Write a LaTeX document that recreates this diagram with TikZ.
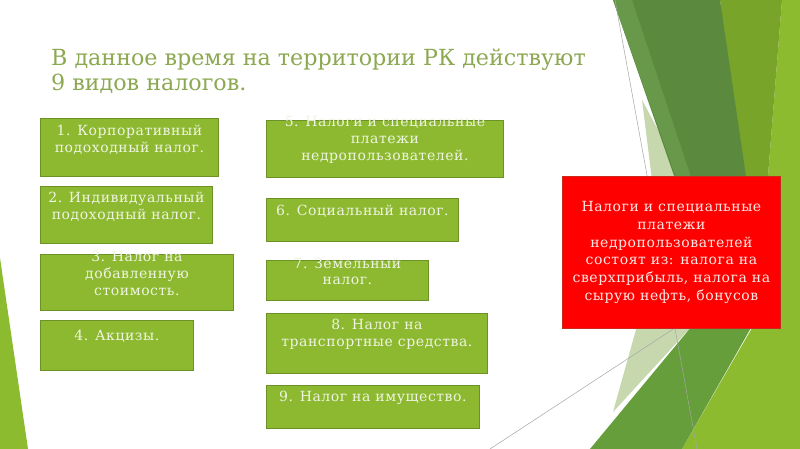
\documentclass[tikz,border=0pt]{standalone}
\usepackage{fontspec}
\setmainfont{DejaVu Serif}
\newfontfamily\boxfont[LetterSpace=4]{DejaVu Serif}
\definecolor{boxfill}{RGB}{140,185,47}
\definecolor{boxborder}{RGB}{108,145,38}
\definecolor{boxtxt}{RGB}{240,244,226}
\definecolor{titlecol}{RGB}{140,168,80}
\definecolor{redfill}{RGB}{255,0,0}
\definecolor{redborder}{RGB}{205,40,30}
\definecolor{redtxt}{RGB}{252,232,228}
\definecolor{gdark}{RGB}{91,138,62}
\definecolor{gdarklight}{RGB}{104,152,74}
\definecolor{golive}{RGB}{120,164,42}
\definecolor{gbright}{RGB}{141,187,48}
\definecolor{gpale}{RGB}{199,216,174}
\definecolor{gmed}{RGB}{102,158,60}
\definecolor{thinline}{RGB}{165,165,165}
\begin{document}
\begin{tikzpicture}[x=1pt,y=-1pt,
  box/.style={draw=boxborder, fill=boxfill, line width=0.8pt, inner sep=0pt, anchor=north west},
  boxtext/.style={text=boxtxt, align=center, inner sep=0pt, font=\boxfont\fontsize{14}{16.7}\selectfont},
  redbox/.style={draw=redborder, fill=redfill, line width=0.8pt, inner sep=0pt, anchor=north west},
  redtext/.style={text=redtxt, align=center, inner sep=0pt, font=\boxfont\fontsize{14}{17.8}\selectfont},
  titletext/.style={text=titlecol, anchor=base west, inner sep=0pt, font=\fontsize{22.2}{25}\selectfont},
  bgline/.style={draw=thinline, line width=0.5pt}]
\useasboundingbox (0,0) rectangle (800,449);
\fill[white] (0,0) rectangle (800,449);
% background facets
\fill[gbright] (0,258) -- (28,449) -- (0,449) -- cycle;
\fill[gbright] (782,0) -- (800,0) -- (800,449) -- (682,449) -- (752,328) -- (768,176) -- cycle;
\fill[golive] (720,0) -- (782,0) -- (768,176) -- (752,328) -- (748,250) -- cycle;
\fill[gpale] (642,100) -- (652,180) -- (685,180) -- cycle;
\fill[gdark] (613,0) -- (720,0) -- (748,190) -- (679,190) -- cycle;
\fill[gdarklight] (613,0) -- (632,0) -- (692,180) -- (677,180) -- cycle;
\fill[gpale] (637,326) -- (692,326) -- (613,412) -- cycle;
\fill[gmed] (692,326) -- (752,326) -- (682,449) -- (590,449) -- cycle;
\coordinate (la) at (615,0);
\coordinate (lb) at (697,449);
\coordinate (lc) at (490,449);
\coordinate (ld) at (690,318);
\draw[bgline] (la) -- (lb);
\draw[bgline] (lc) -- (ld);
% title
\node[titletext] (title1) at (51,65.7) {В данное время на территории РК действуют};
\node[titletext] (title2) at (51,91) {9 видов налогов.};
% left column
\node[box, minimum width=178pt, minimum height=58pt] (b1) at (40,118) {};
\node[boxtext] (t1) at ([yshift=8pt]b1.center) {1. Корпоративный\\подоходный налог.};
\node[box, minimum width=172pt, minimum height=57pt] (b2) at (40,186) {};
\node[boxtext] (t2) at ([yshift=8pt]b2.center) {2. Индивидуальный\\подоходный налог.};
\node[box, minimum width=193pt, minimum height=56pt] (b3) at (40,254) {};
\node[boxtext] (t3) at ([yshift=9pt]b3.center) {3. Налог на\\добавленную\\стоимость.};
\node[box, minimum width=153pt, minimum height=50pt] (b4) at (40,320) {};
\node[boxtext] (t4) at ([yshift=9pt]b4.center) {4. Акцизы.};
% middle column
\node[box, minimum width=237pt, minimum height=57pt] (b5) at (266,120) {};
\node[boxtext] (t5) at ([yshift=9pt]b5.center) {5. Налоги и специальные\\платежи\\недропользователей.};
\node[box, minimum width=192pt, minimum height=43pt] (b6) at (266,198) {};
\node[boxtext] (t6) at ([yshift=9pt]b6.center) {6. Социальный налог.};
\node[box, minimum width=162pt, minimum height=40pt] (b7) at (266,260) {};
\node[boxtext] (t7) at ([yshift=9pt]b7.center) {7. Земельный\\налог.};
\node[box, minimum width=221pt, minimum height=60pt] (b8) at (266,313) {};
\node[boxtext] (t8) at ([yshift=9pt]b8.center) {8. Налог на\\транспортные средства.};
\node[box, minimum width=213pt, minimum height=43pt] (b9) at (266,385) {};
\node[boxtext] (t9) at ([yshift=9pt]b9.center) {9. Налог на имущество.};
% red box
\node[redbox, minimum width=218pt, minimum height=152pt] (r) at (562,176) {};
\node[redtext] (rt) at (r.center) {Налоги и специальные\\платежи\\недропользователей\\состоят из: налога на\\сверхприбыль, налога на\\сырую нефть, бонусов};
\end{tikzpicture}
\end{document}
